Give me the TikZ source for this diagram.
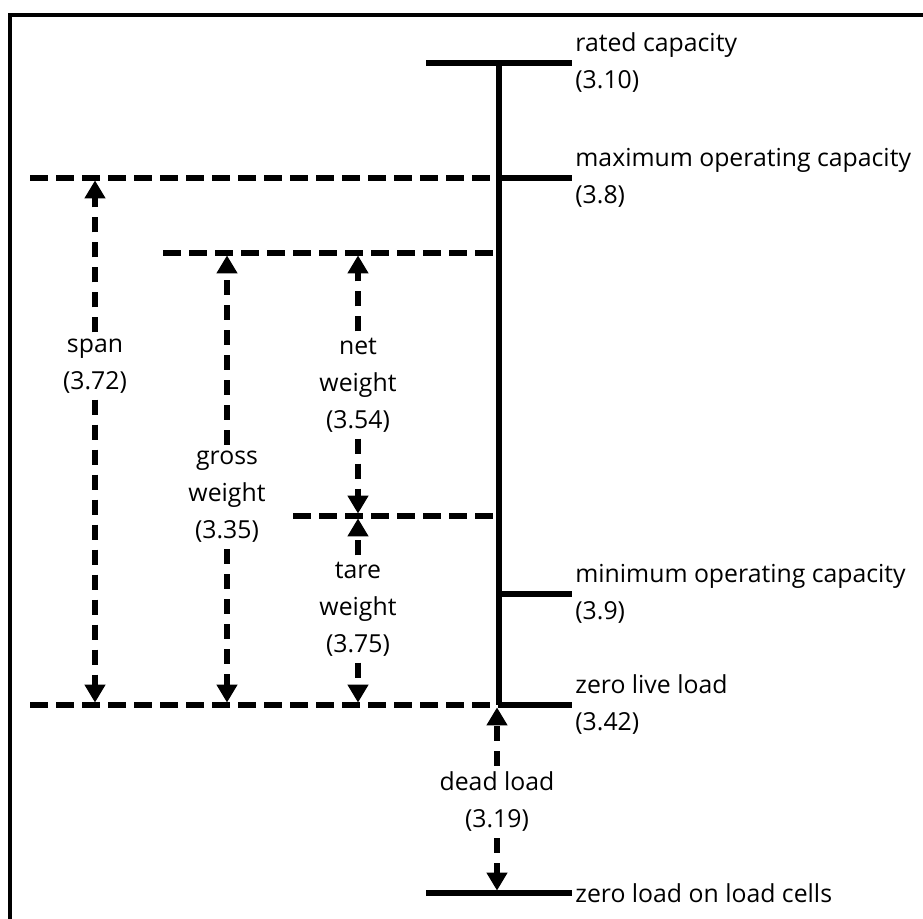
\documentclass[tikz,border=0pt]{standalone}
\usepackage{fontspec}
\setmainfont{Open Sans}
\usetikzlibrary{arrows.meta, positioning}

\begin{document}
\begin{tikzpicture}[
        x=0.5pt, y=-0.5pt, >={Triangle[width=10pt,length=9pt]},
        level/.style={line width=2.6pt},
        guide/.style={line width=2.6pt, dash pattern=on 9pt off 4pt},
        dim/.style={line width=2.6pt, dash pattern=on 7.5pt off 5pt, ->, shorten >=1.2pt},
        tag/.style={font=\fontsize{12.4}{18.5}\selectfont, align=left, anchor=west, inner sep=1.5pt},
        dimtag/.style={font=\fontsize{12.4}{18.5}\selectfont, align=center, inner sep=3pt},
        ]
        \useasboundingbox (0,0) rectangle (923,919);
        \clip (0,0) rectangle (923,919);
        % frame, runs off the right and bottom edge
        \draw[line width=2pt] (10,940) -- (10,15) -- (940,15);

        % levels
        \coordinate (rc)  at (499,63);
        \coordinate (moc) at (499,178);
        \coordinate (gw)  at (499,253);
        \coordinate (tw)  at (499,516);
        \coordinate (mic) at (499,594);
        \coordinate (zll) at (499,705);
        \coordinate (zlc) at (499,893);
        \coordinate (moc-w) at (30,178);
        \coordinate (gw-w)  at (163,253);
        \coordinate (tw-w)  at (293,516);
        \coordinate (zll-w) at (30,705);

        \draw[level] (rc) -- (zll);
        \draw[level] (rc) ++(-73,0) -- ++(146,0) coordinate (rc-e);
        \draw[level] (moc) -- ++(73,0) coordinate (moc-e);
        \draw[level] (mic) -- ++(73,0) coordinate (mic-e);
        \draw[level] (zll) -- ++(73,0) coordinate (zll-e);
        \draw[level] (zlc) ++(-73,0) -- ++(146,0) coordinate (zlc-e);

        \draw[guide] (moc-w) -- (moc);
        \draw[guide] (gw-w) -- (gw);
        \draw[guide] (tw-w) -- (tw);
        \draw[guide] (zll-w) -- (zll);

        \node[tag] (rc-t)  at (rc-e)  {rated capacity\\(3.10)};
        \node[tag] (moc-t) at (moc-e) {maximum operating capacity\\(3.8)};
        \node[tag] (mic-t) at (mic-e) {minimum operating capacity\\(3.9)};
        \node[tag] (zll-t) at (zll-e) {zero live load\\(3.42)};
        \node[tag] (zlc-t) at (zlc-e) {zero load on load cells};

        % dimension arrows
        \node[dimtag] (span)  at (95,366)  {span\\(3.72)};
        \node[dimtag] (gross) at (227,497) {gross\\weight\\(3.35)};
        \node[dimtag] (net)   at (358,385) {net\\weight\\(3.54)};
        \node[dimtag] (tare)  at (358,609) {tare\\weight\\(3.75)};
        \node[dimtag] (dead)  at (497,802) {dead load\\(3.19)};

        \draw[dim] (span) -- (span |- moc);
        \draw[dim] (span) -- (span |- zll);
        \draw[dim] (gross) -- (gross |- gw);
        \draw[dim] (gross) -- (gross |- zll);
        \draw[dim] (net) -- (net |- gw);
        \draw[dim] (net) -- (net |- tw);
        \draw[dim] (tare) -- (tare |- tw);
        \draw[dim] (tare) -- (tare |- zll);
        \draw[dim] (dead) -- (dead |- zll);
        \draw[dim] (dead) -- (dead |- zlc);
\end{tikzpicture}
\end{document}
